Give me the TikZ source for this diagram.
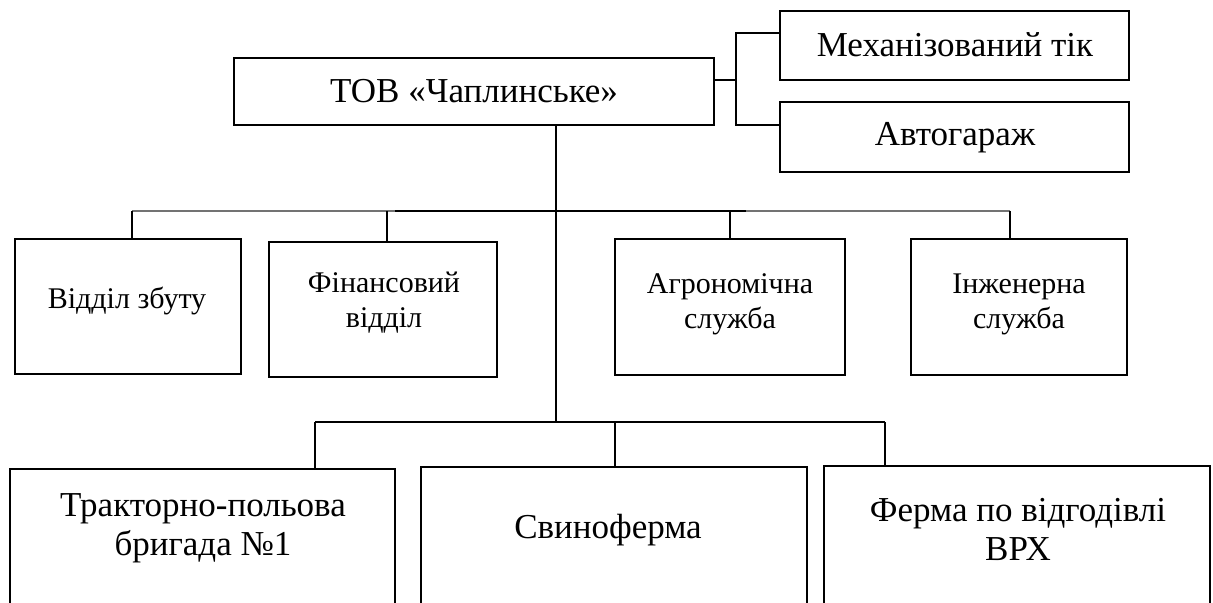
\documentclass[tikz,border=0pt]{standalone}
\usepackage{fontspec}
\setmainfont{Liberation Serif}
\usetikzlibrary{fit}
\begin{document}
\begin{tikzpicture}[x=0.5pt,y=-0.5pt,
  box/.style={draw, line width=1pt, inner sep=0pt},
  lbl/.style={font=\fontsize{17.5}{19.5}\selectfont, align=center, inner sep=0pt},
  sml/.style={font=\fontsize{15}{17.5}\selectfont, align=center, inner sep=0pt},
  conn/.style={line width=0.9pt},
  lightconn/.style={line width=0.9pt, draw=black!55}]
\useasboundingbox (0,0) rectangle (1213,603);
\clip (0,0) rectangle (1213,603);
% top level
\node[box, fit={(234,58) (714,125)}] (t) {};
\node[box, fit={(780,11) (1129,80)}] (m) {};
\node[box, fit={(780,102) (1129,172)}] (a) {};
\node[lbl] (tt) at (474,91) {ТОВ «Чаплинське»};
\node[lbl] (mt) at (955,45) {Механізований тік};
\node[lbl] (at) at (955,138) {Автогараж};
% second row boxes
\node[box, fit={(15,239) (241,374)}] (s1) {};
\node[box, fit={(269,242) (497,377)}] (s2) {};
\node[box, fit={(615,239) (845,375)}] (s3) {};
\node[box, fit={(911,239) (1127,375)}] (s4) {};
\node[sml] (s1t) at (127,301) {Відділ збуту};
\node[sml] (s2t) at (384,303) {Фінансовий\\відділ};
\node[sml] (s3t) at (730,304) {Агрономічна\\служба};
\node[sml] (s4t) at (1019,304) {Інженерна\\служба};
% third row boxes
\node[box, fit={(10,469) (395,640)}] (b1) {};
\node[box, fit={(421,467) (807,640)}] (b2) {};
\node[box, fit={(824,466) (1210,640)}] (b3) {};
\node[lbl] (b1t) at (203,528) {Тракторно-польова\\бригада №1};
\node[lbl] (b2t) at (608,530) {Свиноферма};
\node[lbl] (b3t) at (1018,529) {Ферма по відгодівлі\\ВРХ};
% connector coordinates
\coordinate (bus1) at (556,211);
\coordinate (bus2) at (556,422);
\coordinate (k1) at (132,211);
\coordinate (k2) at (387,211);
\coordinate (k3) at (730,211);
\coordinate (k4) at (1010,211);
\coordinate (g1) at (395,211);
\coordinate (g2) at (746,211);
\coordinate (l1) at (315,422);
\coordinate (l2) at (615,422);
\coordinate (l3) at (885,422);
\coordinate (r0) at (736,80);
\coordinate (rm) at (736,33);
\coordinate (ra) at (736,125);
% trunk
\draw[conn] (t.south -| bus1) -- (bus2);
% second-level bus
\draw[lightconn] (k1) -- (g1);
\draw[conn] (g1) -- (g2);
\draw[lightconn] (g2) -- (k4);
\draw[conn] (k1) -- (k1 |- s1.north);
\draw[conn] (k2) -- (k2 |- s2.north);
\draw[conn] (k3) -- (k3 |- s3.north);
\draw[conn] (k4) -- (k4 |- s4.north);
% third-level bus
\draw[conn] (l1) -- (l3);
\draw[conn] (l1) -- (l1 |- b1.north);
\draw[conn] (l2) -- (l2 |- b2.north);
\draw[conn] (l3) -- (l3 |- b3.north);
% right side
\draw[conn] (t.east |- r0) -- (r0);
\draw[conn] (m.west |- rm) -- (rm) -- (ra) -- (a.west |- ra);
\end{tikzpicture}
\end{document}
